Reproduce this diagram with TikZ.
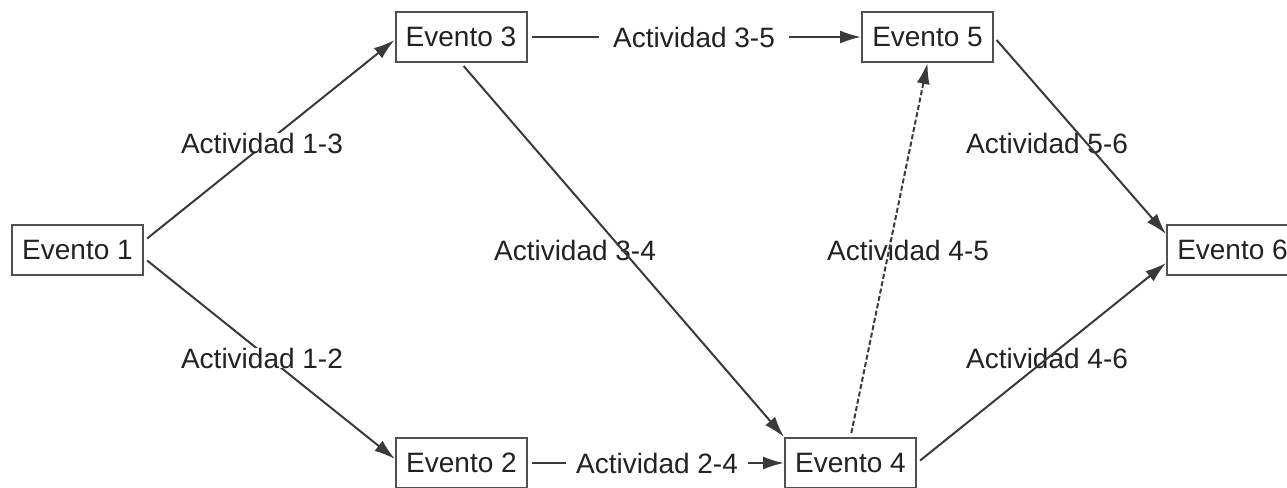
\documentclass[tikz,border=0pt]{standalone}
\usepackage{fontspec}
\setmainfont{Liberation Sans}
\usetikzlibrary{arrows.meta}
\definecolor{boxline}{HTML}{505050}
\definecolor{edgeline}{HTML}{3A3A3A}
\definecolor{inktext}{HTML}{222222}
\tikzset{
  evento/.style={draw=boxline, line width=2pt, fill=white, text=inktext,
    minimum width=131pt, minimum height=50pt, inner sep=0pt,
    font=\fontsize{28}{30}\selectfont},
  etiqueta/.style={text=inktext, inner xsep=4pt, inner ysep=0pt,
    font=\fontsize{28}{30}\selectfont},
  tapada/.style={etiqueta, fill=white},
  flecha/.style={draw=edgeline, line width=2pt,
    -{Latex[length=21pt,width=13pt]}, shorten <=4pt},
  punteada/.style={flecha, dash pattern=on 5pt off 2.5pt}
}
\begin{document}
\begin{tikzpicture}[x=1pt,y=-1pt]
\useasboundingbox (0,0) rectangle (1287,487);
\fill[white] (0,0) rectangle (1287,487);

% events
\node[evento] (E1) at (77.5,250) {Evento 1};
\node[evento] (E3) at (461,37) {Evento 3};
\node[evento] (E5) at (927.5,37) {Evento 5};
\node[evento] (E2) at (461.5,463) {Evento 2};
\node[evento] (E4) at (850.5,463) {Evento 4};
\node[evento] (E6) at (1232.5,250) {Evento 6};

% labels crossed by their lines
\node[etiqueta] (L34) at (575,250) {Actividad 3-4};
\node[etiqueta] (L45) at (908,250) {Actividad 4-5};
\node[etiqueta] (L56) at (1047,143) {Actividad 5-6};
\node[etiqueta] (L46) at (1047,358) {Actividad 4-6};

% activities
\draw[flecha] ([yshift=9pt]E1.east) -- ([yshift=-3pt]E3.west);
\draw[flecha] ([yshift=-8pt]E1.east) -- ([yshift=4pt]E2.west);
\draw[flecha] (E3.east) -- (E5.west);
\draw[flecha] (E2.east) -- (E4.west);
\draw[flecha] (E3.south) -- (E4.north west);
\draw[punteada] (E4.north) -- (E5.south);
\draw[flecha] (E5.east) -- ([yshift=16pt]E6.west);
\draw[flecha] (E4.east) -- ([yshift=-13pt]E6.west);

% labels that cover their lines
\node[tapada] (L13) at (262,143) {Actividad 1-3};
\node[tapada] (L12) at (262,358) {Actividad 1-2};
\node[tapada, inner xsep=14pt] (L35) at (694,37) {Actividad 3-5};
\node[tapada, inner xsep=10pt] (L24) at (657,463) {Actividad 2-4};
\end{tikzpicture}
\end{document}
